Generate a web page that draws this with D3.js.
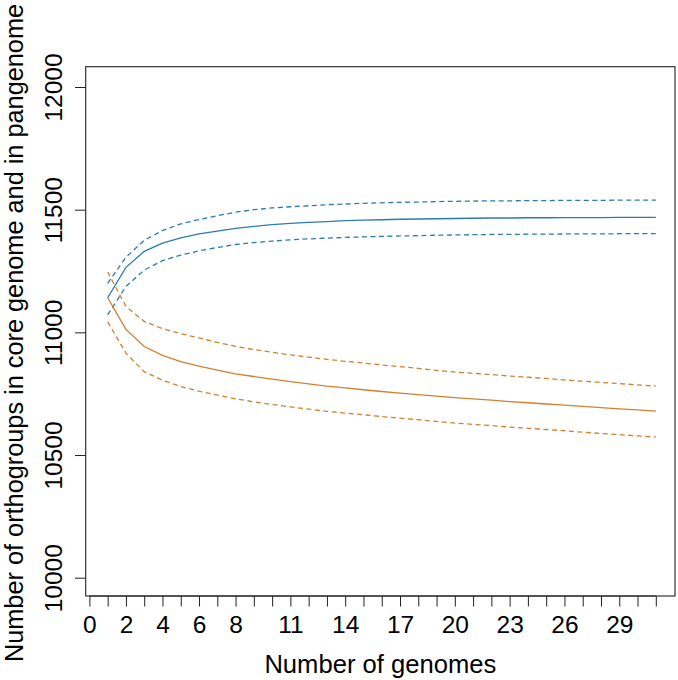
<!DOCTYPE html>
<html>
<head>
<meta charset="utf-8">
<script src="https://cdn.jsdelivr.net/npm/d3@7"></script>
<style>
  body { margin: 0; background: #fff; }
  text { font-family: "Liberation Sans", Arial, sans-serif; fill: #000; }
</style>
</head>
<body>
<div id="chart"></div>
<script>
// number of genomes sampled
const genomes = d3.range(1, 32);

// pangenome: mean and upper / lower band
const panMean = [11141, 11265, 11330, 11364, 11385, 11401, 11413, 11424, 11432, 11439,
  11444, 11448, 11451, 11455, 11457, 11459, 11461, 11462, 11463, 11464,
  11465, 11466, 11466, 11467, 11467, 11468, 11468, 11468, 11469, 11469, 11469];
const panUpper = [11200, 11306, 11375, 11415, 11442, 11460, 11475, 11490, 11500, 11507,
  11512, 11516, 11520, 11523, 11526, 11528, 11530, 11531, 11533, 11534,
  11535, 11536, 11536, 11537, 11537, 11538, 11538, 11538, 11539, 11539, 11539];
const panLower = [11071, 11187, 11254, 11292, 11315, 11332, 11346, 11358, 11366, 11372,
  11377, 11381, 11384, 11387, 11389, 11391, 11393, 11394, 11396, 11397,
  11398, 11399, 11399, 11400, 11400, 11401, 11401, 11401, 11402, 11402, 11402];

// core genome: mean and upper / lower band
const coreMean = [11141, 11012, 10942, 10906, 10881, 10862, 10846, 10831, 10820, 10809,
  10799, 10790, 10781, 10774, 10766, 10759, 10752, 10746, 10740, 10734,
  10729, 10724, 10718, 10713, 10708, 10703, 10698, 10693, 10688, 10684, 10679];
const coreUpper = [11246, 11105, 11045, 11015, 10995, 10977, 10959, 10943, 10930, 10919,
  10908, 10899, 10890, 10882, 10875, 10867, 10860, 10853, 10845, 10838,
  10833, 10828, 10822, 10817, 10812, 10806, 10801, 10796, 10791, 10786, 10781];
const coreLower = [11043, 10915, 10840, 10805, 10779, 10760, 10744, 10729, 10717, 10706,
  10696, 10687, 10678, 10671, 10664, 10657, 10650, 10644, 10637, 10630,
  10625, 10620, 10614, 10609, 10604, 10599, 10593, 10588, 10583, 10578, 10573];

const xTicks = d3.range(0, 32);
const xTickLabels = [0, 2, 4, 6, 8, 11, 14, 17, 20, 23, 26, 29];
const yTicks = [10000, 10500, 11000, 11500, 12000];

const xTitle = "Number of genomes";
const yTitle = "Number of orthogroups in core genome and in pangenome";

const panColor = "#2b7bb0";
const coreColor = "#d2802f";

function DrawChart() {
    const width = 678, height = 680;
    const box = {left: 85.7, right: 675, top: 66.7, bottom: 596};

    d3.select("#chart").selectAll("*").remove();

    const svg = d3.select("#chart")
        .append("svg")
        .attr("width", width)
        .attr("height", height);

    svg.append("rect")
        .attr("width", width).attr("height", height)
        .attr("fill", "#fff");

    var x = d3.scaleLinear()
        .domain([0, 31])
        .range([89.4, 655.8]);

    var y = d3.scaleLinear()
        .domain([10000, 12000])
        .range([577.7, 87]);

    // X axis below the box
    const xAxis = svg.append("g")
        .attr("transform", `translate(0,${box.bottom})`)
        .call(d3.axisBottom(x)
            .tickValues(xTicks)
            .tickSize(10.5)
            .tickFormat(d => xTickLabels.includes(d) ? d : ""));
    xAxis.select(".domain").remove();
    xAxis.selectAll(".tick line").attr("stroke", "#222").attr("stroke-width", 1);
    xAxis.selectAll(".tick text")
        .attr("y", 0).attr("dy", null)
        .attr("transform", "translate(0,37.3)")
        .style("font-size", "24.5px")
        .style("font-family", "'Liberation Sans', Arial, sans-serif")
        .attr("fill", "#000");
    svg.append("line")
        .attr("x1", x(0)).attr("x2", x(31))
        .attr("y1", box.bottom).attr("y2", box.bottom)
        .attr("stroke", "#222");

    // Y axis left of the box, labels rotated
    const yAxis = svg.append("g")
        .attr("transform", `translate(${box.left},0)`)
        .call(d3.axisLeft(y).tickValues(yTicks).tickSize(10.7).tickFormat(d3.format("d")));
    yAxis.select(".domain").remove();
    yAxis.selectAll(".tick line").attr("stroke", "#222").attr("stroke-width", 1);
    yAxis.selectAll(".tick text")
        .attr("x", 0).attr("dy", null)
        .attr("text-anchor", "middle")
        .attr("transform", "translate(-24,0) rotate(-90)")
        .style("font-size", "24.5px")
        .style("font-family", "'Liberation Sans', Arial, sans-serif")
        .attr("fill", "#000");

    // Box
    svg.append("rect")
        .attr("x", box.left).attr("y", box.top)
        .attr("width", box.right - box.left)
        .attr("height", box.bottom - box.top)
        .attr("fill", "none")
        .attr("stroke", "#222")
        .attr("stroke-width", 1.1);

    // Titles
    svg.append("text")
        .attr("x", (box.left + box.right) / 2)
        .attr("y", 673.3)
        .attr("text-anchor", "middle")
        .style("font-size", "25.6px")
        .text(xTitle);

    svg.append("text")
        .attr("transform", `translate(23.3,333) rotate(-90)`)
        .attr("text-anchor", "middle")
        .style("font-size", "25.3px")
        .text(yTitle);

    // Curves
    const line = d3.line()
        .x(d => x(d[0]))
        .y(d => y(d[1]));

    const series = [
        {values: panUpper, color: panColor, dash: "5,3.5"},
        {values: panLower, color: panColor, dash: "5,3.5"},
        {values: panMean, color: panColor, dash: null},
        {values: coreUpper, color: coreColor, dash: "5,3.5"},
        {values: coreLower, color: coreColor, dash: "5,3.5"},
        {values: coreMean, color: coreColor, dash: null}
    ];

    svg.append("g")
        .selectAll("path")
        .data(series)
        .enter()
        .append("path")
            .attr("d", s => line(genomes.map((g, i) => [g, s.values[i]])))
            .attr("fill", "none")
            .attr("stroke", s => s.color)
            .attr("stroke-width", 1.3)
            .attr("stroke-dasharray", s => s.dash);
}

DrawChart();
</script>
</body>
</html>
